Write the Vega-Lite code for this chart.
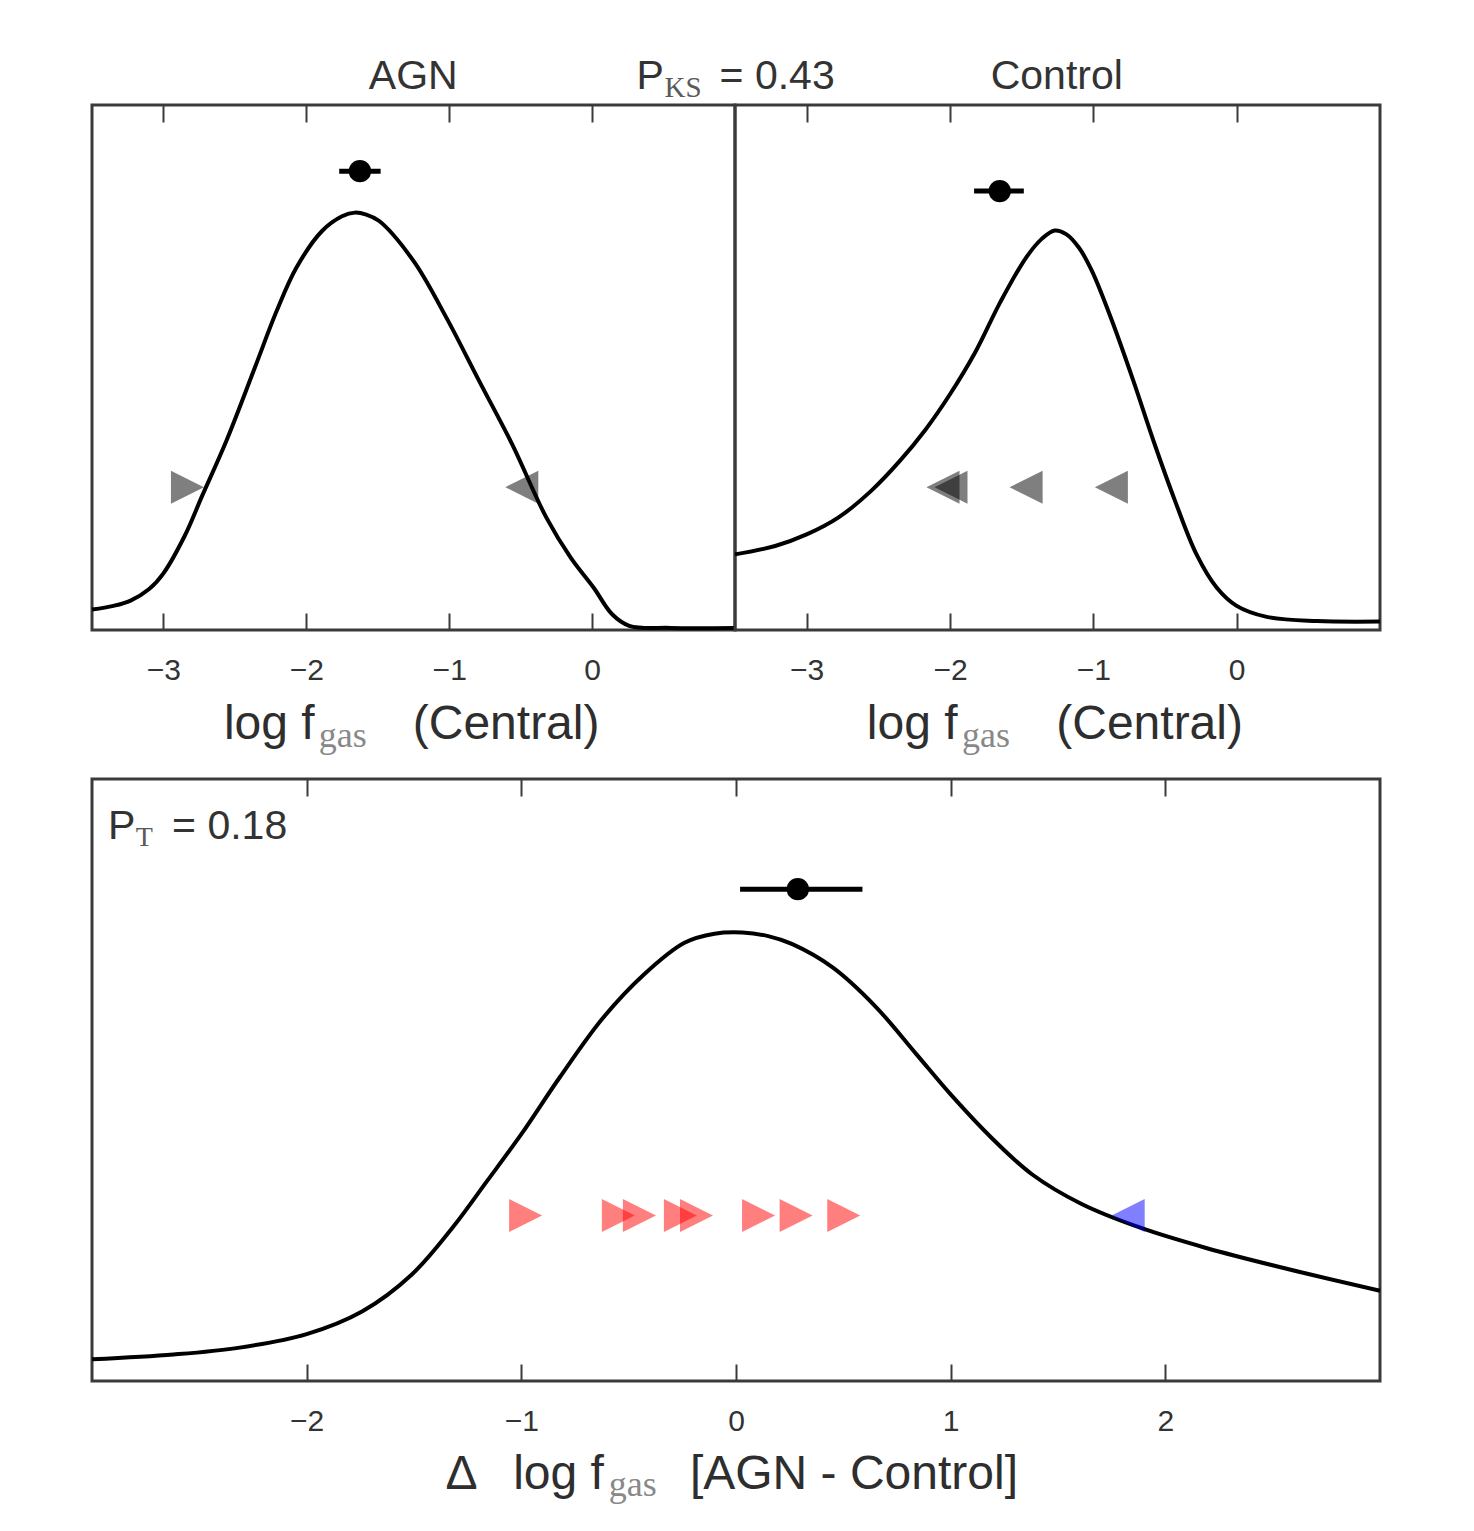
{
  "$schema": "https://vega.github.io/schema/vega-lite/v6.json",
  "background": "white",
  "padding": {"left": 82, "top": 54, "right": 10, "bottom": 10},
  "config": {
    "view": {"stroke": "#3a3a3a", "strokeWidth": 3},
    "axis": {"domain": false, "grid": false, "tickSize": -17, "tickWidth": 2, "tickColor": "#3a3a3a", "labelFont": "Liberation Sans", "labelFontSize": 30, "labelColor": "#333333", "labelPadding": 42, "labelFlush": false},
    "text": {"font": "Liberation Sans"}
  },
  "datasets": {
    "agn_kde": [{"x":-3.5,"density":0.039},{"x":-3.35,"density":0.046},{"x":-3.23,"density":0.056},{"x":-3.1,"density":0.078},{"x":-3.0,"density":0.108},{"x":-2.85,"density":0.18},{"x":-2.73,"density":0.255},{"x":-2.56,"density":0.36},{"x":-2.36,"density":0.5},{"x":-2.21,"density":0.606},{"x":-2.07,"density":0.69},{"x":-1.89,"density":0.76},{"x":-1.75,"density":0.788},{"x":-1.66,"density":0.795},{"x":-1.58,"density":0.791},{"x":-1.49,"density":0.779},{"x":-1.25,"density":0.703},{"x":-1.02,"density":0.595},{"x":-0.79,"density":0.474},{"x":-0.56,"density":0.354},{"x":-0.32,"density":0.214},{"x":-0.15,"density":0.138},{"x":0.01,"density":0.081},{"x":0.14,"density":0.03},{"x":0.26,"density":0.008},{"x":0.55,"density":0.004},{"x":1.0,"density":0.004}],
    "control_kde": [{"x":-3.5,"density":0.144},{"x":-3.22,"density":0.16},{"x":-3.0,"density":0.182},{"x":-2.78,"density":0.214},{"x":-2.55,"density":0.265},{"x":-2.35,"density":0.322},{"x":-2.17,"density":0.382},{"x":-2.0,"density":0.449},{"x":-1.82,"density":0.531},{"x":-1.65,"density":0.624},{"x":-1.47,"density":0.709},{"x":-1.36,"density":0.745},{"x":-1.27,"density":0.761},{"x":-1.19,"density":0.754},{"x":-1.1,"density":0.728},{"x":-1.01,"density":0.684},{"x":-0.87,"density":0.589},{"x":-0.72,"density":0.474},{"x":-0.58,"density":0.36},{"x":-0.43,"density":0.246},{"x":-0.28,"density":0.144},{"x":-0.14,"density":0.081},{"x":0.0,"density":0.046},{"x":0.21,"density":0.025},{"x":0.56,"density":0.017},{"x":1.0,"density":0.016}],
    "delta_kde": [{"x":-3.0,"density":0.036},{"x":-2.62,"density":0.044},{"x":-2.32,"density":0.055},{"x":-2.0,"density":0.078},{"x":-1.74,"density":0.116},{"x":-1.51,"density":0.177},{"x":-1.32,"density":0.255},{"x":-1.16,"density":0.332},{"x":-1.0,"density":0.41},{"x":-0.82,"density":0.505},{"x":-0.62,"density":0.603},{"x":-0.43,"density":0.675},{"x":-0.24,"density":0.728},{"x":-0.1,"density":0.743},{"x":0.03,"density":0.745},{"x":0.15,"density":0.739},{"x":0.26,"density":0.726},{"x":0.45,"density":0.687},{"x":0.65,"density":0.622},{"x":0.84,"density":0.543},{"x":1.0,"density":0.476},{"x":1.19,"density":0.404},{"x":1.38,"density":0.343},{"x":1.61,"density":0.294},{"x":1.88,"density":0.255},{"x":2.19,"density":0.221},{"x":2.57,"density":0.186},{"x":3.0,"density":0.15}],
    "agn_limits": [{"x":-2.832,"y":0.272,"dir":"right"},{"x":-0.492,"y":0.272,"dir":"left"}],
    "control_limits": [{"x":-2.049,"y":0.272,"dir":"left"},{"x":-1.993,"y":0.272,"dir":"left"},{"x":-1.469,"y":0.272,"dir":"left"},{"x":-0.874,"y":0.272,"dir":"left"}],
    "delta_limits": [{"x":-0.98,"y":0.275,"dir":"right"},{"x":-0.548,"y":0.275,"dir":"right"},{"x":-0.45,"y":0.275,"dir":"right"},{"x":-0.259,"y":0.275,"dir":"right"},{"x":-0.184,"y":0.275,"dir":"right"},{"x":0.105,"y":0.275,"dir":"right"},{"x":0.28,"y":0.275,"dir":"right"},{"x":0.502,"y":0.275,"dir":"right"},{"x":1.827,"y":0.275,"dir":"left"}],
    "agn_mean": [{"mean":-1.625,"lo":-1.77,"hi":-1.48,"y":0.874}],
    "control_mean": [{"mean":-1.653,"lo":-1.832,"hi":-1.485,"y":0.836}],
    "delta_mean": [{"mean":0.288,"lo":0.019,"hi":0.589,"y":0.817}]
  },
  "spacing": 674,
  "bounds": "flush",
  "vconcat": [
    {
      "spacing": 0,
      "bounds": "flush",
      "hconcat": [
        {
          "width": 643, "height": 525,
          "resolve": {"axis": {"x": "independent"}},
          "layer": [
            {"data": {"name": "agn_kde"}, "mark": {"type": "line", "color": "black", "strokeWidth": 4, "interpolate": "catmull-rom"},
             "encoding": {"x": {"field": "x", "type": "quantitative", "scale": {"domain": [-3.5, 1], "nice": false, "zero": false}, "axis": {"orient": "bottom", "values": [-3, -2, -1, 0], "title": null}},
                          "y": {"field": "density", "type": "quantitative", "scale": {"domain": [0, 1], "nice": false, "zero": false}, "axis": null}}},
            {"data": {"name": "agn_limits"}, "mark": {"type": "point", "filled": true, "size": 1090, "opacity": 0.5, "color": "black", "strokeWidth": 0},
             "encoding": {"x": {"field": "x", "type": "quantitative", "scale": {"domain": [-3.5, 1], "nice": false, "zero": false}, "axis": null},
                          "y": {"field": "y", "type": "quantitative", "scale": {"domain": [0, 1], "nice": false, "zero": false}, "axis": null},
                          "shape": {"field": "dir", "type": "nominal", "scale": {"domain": ["right", "left"], "range": ["M1,0L-1,-1L-1,1Z", "M-1,0L1,-1L1,1Z"]}, "legend": null}}},
            {"data": {"name": "agn_mean"}, "mark": {"type": "rule", "color": "black", "strokeWidth": 5},
             "encoding": {"x": {"field": "lo", "type": "quantitative", "scale": {"domain": [-3.5, 1], "nice": false, "zero": false}, "axis": {"orient": "top", "labels": false, "values": [-3, -2, -1, 0], "title": null}},
                          "x2": {"field": "hi"},
                          "y": {"field": "y", "type": "quantitative", "scale": {"domain": [0, 1], "nice": false, "zero": false}, "axis": null}}},
            {"data": {"name": "agn_mean"}, "mark": {"type": "point", "shape": "circle", "filled": true, "size": 500, "color": "black", "opacity": 1},
             "encoding": {"x": {"field": "mean", "type": "quantitative", "scale": {"domain": [-3.5, 1], "nice": false, "zero": false}, "axis": null},
                          "y": {"field": "y", "type": "quantitative", "scale": {"domain": [0, 1], "nice": false, "zero": false}, "axis": null}}},
            {"data": {"values": [{"x": -1.2517, "y": 1.0305, "text": "AGN"}]}, "mark": {"type": "text", "align": "center", "baseline": "alphabetic", "fontSize": 41, "font": "Liberation Sans", "color": "#333333"},
             "encoding": {"x": {"field": "x", "type": "quantitative", "scale": {"domain": [-3.5, 1], "nice": false, "zero": false}, "axis": null},
                          "y": {"field": "y", "type": "quantitative", "scale": {"domain": [0, 1], "nice": false, "zero": false}, "axis": null},
                          "text": {"field": "text"}}},
            {"data": {"values": [{"x": 0.311, "y": 1.0305, "text": "P"}, {"x": 0.892, "y": 1.0305, "text": "= 0.43"}]}, "mark": {"type": "text", "align": "left", "baseline": "alphabetic", "fontSize": 41, "font": "Liberation Sans", "color": "#333333"},
             "encoding": {"x": {"field": "x", "type": "quantitative", "scale": {"domain": [-3.5, 1], "nice": false, "zero": false}, "axis": null},
                          "y": {"field": "y", "type": "quantitative", "scale": {"domain": [0, 1], "nice": false, "zero": false}, "axis": null},
                          "text": {"field": "text"}}},
            {"data": {"values": [{"x": 0.507, "y": 1.0143, "text": "KS"}]}, "mark": {"type": "text", "align": "left", "baseline": "alphabetic", "fontSize": 29, "font": "Liberation Serif", "color": "#5a5a5a"},
             "encoding": {"x": {"field": "x", "type": "quantitative", "scale": {"domain": [-3.5, 1], "nice": false, "zero": false}, "axis": null},
                          "y": {"field": "y", "type": "quantitative", "scale": {"domain": [0, 1], "nice": false, "zero": false}, "axis": null},
                          "text": {"field": "text"}}},
            {"data": {"values": [{"x": -2.577, "y": -0.2076, "text": "log f"}, {"x": -1.2552, "y": -0.2076, "text": "(Central)"}]}, "mark": {"type": "text", "align": "left", "baseline": "alphabetic", "fontSize": 48, "font": "Liberation Sans", "color": "#2e2e2e"},
             "encoding": {"x": {"field": "x", "type": "quantitative", "scale": {"domain": [-3.5, 1], "nice": false, "zero": false}, "axis": null},
                          "y": {"field": "y", "type": "quantitative", "scale": {"domain": [0, 1], "nice": false, "zero": false}, "axis": null},
                          "text": {"field": "text"}}},
            {"data": {"values": [{"x": -1.9126, "y": -0.2229, "text": "gas"}]}, "mark": {"type": "text", "align": "left", "baseline": "alphabetic", "fontSize": 36, "font": "Liberation Serif", "color": "#888888"},
             "encoding": {"x": {"field": "x", "type": "quantitative", "scale": {"domain": [-3.5, 1], "nice": false, "zero": false}, "axis": null},
                          "y": {"field": "y", "type": "quantitative", "scale": {"domain": [0, 1], "nice": false, "zero": false}, "axis": null},
                          "text": {"field": "text"}}}
          ]
        },
        {
          "width": 645, "height": 525,
          "resolve": {"axis": {"x": "independent"}},
          "layer": [
            {"data": {"name": "control_kde"}, "mark": {"type": "line", "color": "black", "strokeWidth": 4, "interpolate": "catmull-rom"},
             "encoding": {"x": {"field": "x", "type": "quantitative", "scale": {"domain": [-3.5, 1], "nice": false, "zero": false}, "axis": {"orient": "bottom", "values": [-3, -2, -1, 0], "title": null}},
                          "y": {"field": "density", "type": "quantitative", "scale": {"domain": [0, 1], "nice": false, "zero": false}, "axis": null}}},
            {"data": {"name": "control_limits"}, "mark": {"type": "point", "filled": true, "size": 1090, "opacity": 0.5, "color": "black", "strokeWidth": 0},
             "encoding": {"x": {"field": "x", "type": "quantitative", "scale": {"domain": [-3.5, 1], "nice": false, "zero": false}, "axis": null},
                          "y": {"field": "y", "type": "quantitative", "scale": {"domain": [0, 1], "nice": false, "zero": false}, "axis": null},
                          "shape": {"field": "dir", "type": "nominal", "scale": {"domain": ["right", "left"], "range": ["M1,0L-1,-1L-1,1Z", "M-1,0L1,-1L1,1Z"]}, "legend": null}}},
            {"data": {"name": "control_mean"}, "mark": {"type": "rule", "color": "black", "strokeWidth": 5},
             "encoding": {"x": {"field": "lo", "type": "quantitative", "scale": {"domain": [-3.5, 1], "nice": false, "zero": false}, "axis": {"orient": "top", "labels": false, "values": [-3, -2, -1, 0], "title": null}},
                          "x2": {"field": "hi"},
                          "y": {"field": "y", "type": "quantitative", "scale": {"domain": [0, 1], "nice": false, "zero": false}, "axis": null}}},
            {"data": {"name": "control_mean"}, "mark": {"type": "point", "shape": "circle", "filled": true, "size": 500, "color": "black", "opacity": 1},
             "encoding": {"x": {"field": "mean", "type": "quantitative", "scale": {"domain": [-3.5, 1], "nice": false, "zero": false}, "axis": null},
                          "y": {"field": "y", "type": "quantitative", "scale": {"domain": [0, 1], "nice": false, "zero": false}, "axis": null}}},
            {"data": {"values": [{"x": -1.2552, "y": 1.0305, "text": "Control"}]}, "mark": {"type": "text", "align": "center", "baseline": "alphabetic", "fontSize": 41, "font": "Liberation Sans", "color": "#333333"},
             "encoding": {"x": {"field": "x", "type": "quantitative", "scale": {"domain": [-3.5, 1], "nice": false, "zero": false}, "axis": null},
                          "y": {"field": "y", "type": "quantitative", "scale": {"domain": [0, 1], "nice": false, "zero": false}, "axis": null},
                          "text": {"field": "text"}}},
            {"data": {"values": [{"x": -2.58, "y": -0.2076, "text": "log f"}, {"x": -1.2587, "y": -0.2076, "text": "(Central)"}]}, "mark": {"type": "text", "align": "left", "baseline": "alphabetic", "fontSize": 48, "font": "Liberation Sans", "color": "#2e2e2e"},
             "encoding": {"x": {"field": "x", "type": "quantitative", "scale": {"domain": [-3.5, 1], "nice": false, "zero": false}, "axis": null},
                          "y": {"field": "y", "type": "quantitative", "scale": {"domain": [0, 1], "nice": false, "zero": false}, "axis": null},
                          "text": {"field": "text"}}},
            {"data": {"values": [{"x": -1.916, "y": -0.2229, "text": "gas"}]}, "mark": {"type": "text", "align": "left", "baseline": "alphabetic", "fontSize": 36, "font": "Liberation Serif", "color": "#888888"},
             "encoding": {"x": {"field": "x", "type": "quantitative", "scale": {"domain": [-3.5, 1], "nice": false, "zero": false}, "axis": null},
                          "y": {"field": "y", "type": "quantitative", "scale": {"domain": [0, 1], "nice": false, "zero": false}, "axis": null},
                          "text": {"field": "text"}}}
          ]
        }
      ]
    },
    {
      "width": 1288, "height": 602,
      "resolve": {"axis": {"x": "independent"}},
      "layer": [
        {"data": {"name": "delta_kde"}, "mark": {"type": "line", "color": "black", "strokeWidth": 4, "interpolate": "catmull-rom"},
         "encoding": {"x": {"field": "x", "type": "quantitative", "scale": {"domain": [-3, 3], "nice": false, "zero": false}, "axis": {"orient": "bottom", "values": [-2, -1, 0, 1, 2], "title": null}},
                      "y": {"field": "density", "type": "quantitative", "scale": {"domain": [0, 1], "nice": false, "zero": false}, "axis": null}}},
        {"data": {"name": "delta_limits"}, "mark": {"type": "point", "filled": true, "size": 1090, "opacity": 0.5, "strokeWidth": 0},
         "encoding": {"x": {"field": "x", "type": "quantitative", "scale": {"domain": [-3, 3], "nice": false, "zero": false}, "axis": null},
                      "y": {"field": "y", "type": "quantitative", "scale": {"domain": [0, 1], "nice": false, "zero": false}, "axis": null},
                      "shape": {"field": "dir", "type": "nominal", "scale": {"domain": ["right", "left"], "range": ["M1,0L-1,-1L-1,1Z", "M-1,0L1,-1L1,1Z"]}, "legend": null},
                      "color": {"field": "dir", "type": "nominal", "scale": {"domain": ["right", "left"], "range": ["#ff0000", "#0000ff"]}, "legend": null}}},
        {"data": {"name": "delta_mean"}, "mark": {"type": "rule", "color": "black", "strokeWidth": 5},
         "encoding": {"x": {"field": "lo", "type": "quantitative", "scale": {"domain": [-3, 3], "nice": false, "zero": false}, "axis": {"orient": "top", "labels": false, "values": [-2, -1, 0, 1, 2], "title": null}},
                      "x2": {"field": "hi"},
                      "y": {"field": "y", "type": "quantitative", "scale": {"domain": [0, 1], "nice": false, "zero": false}, "axis": null}}},
        {"data": {"name": "delta_mean"}, "mark": {"type": "point", "shape": "circle", "filled": true, "size": 500, "color": "black", "opacity": 1},
         "encoding": {"x": {"field": "mean", "type": "quantitative", "scale": {"domain": [-3, 3], "nice": false, "zero": false}, "axis": null},
                      "y": {"field": "y", "type": "quantitative", "scale": {"domain": [0, 1], "nice": false, "zero": false}, "axis": null}}},
        {"data": {"values": [{"x": -2.926, "y": 0.9003, "text": "P"}, {"x": -2.627, "y": 0.9003, "text": "= 0.18"}]}, "mark": {"type": "text", "align": "left", "baseline": "alphabetic", "fontSize": 41, "font": "Liberation Sans", "color": "#333333"},
         "encoding": {"x": {"field": "x", "type": "quantitative", "scale": {"domain": [-3, 3], "nice": false, "zero": false}, "axis": null},
                      "y": {"field": "y", "type": "quantitative", "scale": {"domain": [0, 1], "nice": false, "zero": false}, "axis": null},
                      "text": {"field": "text"}}},
        {"data": {"values": [{"x": -2.796, "y": 0.8887, "text": "T"}]}, "mark": {"type": "text", "align": "left", "baseline": "alphabetic", "fontSize": 28, "font": "Liberation Serif", "color": "#5a5a5a"},
         "encoding": {"x": {"field": "x", "type": "quantitative", "scale": {"domain": [-3, 3], "nice": false, "zero": false}, "axis": null},
                      "y": {"field": "y", "type": "quantitative", "scale": {"domain": [0, 1], "nice": false, "zero": false}, "axis": null},
                      "text": {"field": "text"}}},
        {"data": {"values": [{"x": -1.353, "y": -0.1794, "text": "Δ"}, {"x": -1.038, "y": -0.1794, "text": "log f"}, {"x": -0.2147, "y": -0.1794, "text": "[AGN - Control]"}]}, "mark": {"type": "text", "align": "left", "baseline": "alphabetic", "fontSize": 48, "font": "Liberation Sans", "color": "#2e2e2e"},
         "encoding": {"x": {"field": "x", "type": "quantitative", "scale": {"domain": [-3, 3], "nice": false, "zero": false}, "axis": null},
                      "y": {"field": "y", "type": "quantitative", "scale": {"domain": [0, 1], "nice": false, "zero": false}, "axis": null},
                      "text": {"field": "text"}}},
        {"data": {"values": [{"x": -0.593, "y": -0.191, "text": "gas"}]}, "mark": {"type": "text", "align": "left", "baseline": "alphabetic", "fontSize": 36, "font": "Liberation Serif", "color": "#888888"},
         "encoding": {"x": {"field": "x", "type": "quantitative", "scale": {"domain": [-3, 3], "nice": false, "zero": false}, "axis": null},
                      "y": {"field": "y", "type": "quantitative", "scale": {"domain": [0, 1], "nice": false, "zero": false}, "axis": null},
                      "text": {"field": "text"}}}
      ]
    }
  ]
}
